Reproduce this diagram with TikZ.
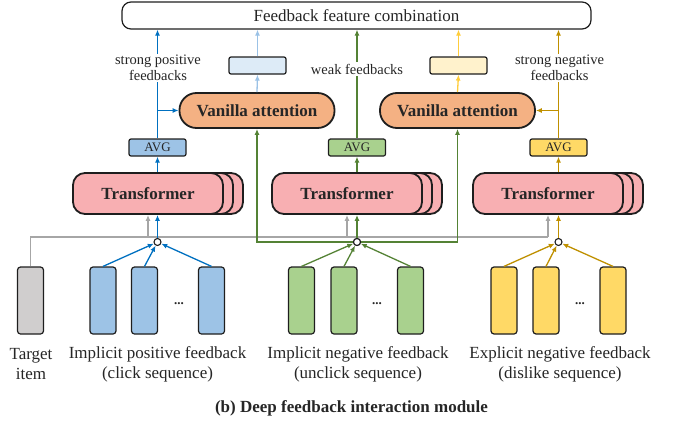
\documentclass[tikz,border=0pt]{standalone}
\usepackage{fontspec}
\setmainfont{Liberation Serif}
\usetikzlibrary{arrows.meta}
\definecolor{txtc}{RGB}{38,38,38}
\definecolor{outc}{RGB}{30,30,30}
\definecolor{bluel}{RGB}{0,112,192}
\definecolor{bluefill}{RGB}{157,195,230}
\definecolor{bluepale}{RGB}{155,194,230}
\definecolor{bluebox}{RGB}{221,235,247}
\definecolor{greenl}{RGB}{84,130,53}
\definecolor{greenfill}{RGB}{169,209,142}
\definecolor{yelfill}{RGB}{255,217,102}
\definecolor{brownl}{RGB}{191,144,0}
\definecolor{yelpale}{RGB}{255,205,60}
\definecolor{yelbox}{RGB}{255,242,204}
\definecolor{vac}{RGB}{244,177,131}
\definecolor{transc}{RGB}{248,175,178}
\definecolor{grayl}{RGB}{166,166,166}
\definecolor{grayfill}{RGB}{208,206,206}
\begin{document}
\begin{tikzpicture}[x=1pt,y=-1pt,
  txt/.style={text=txtc, font=\fontsize{17}{20}\selectfont, align=center, inner sep=0pt},
  small/.style={text=txtc, font=\fontsize{14.5}{16}\selectfont, align=center, fill=white, inner sep=1.5pt},
  item/.style={draw=outc, line width=1.2pt, rounded corners=3pt, minimum width=26pt, minimum height=67pt, inner sep=0pt},
  trans/.style={draw=outc, line width=1.8pt, rounded corners=12pt, fill=transc, minimum width=150pt, minimum height=41pt, inner sep=0pt, font=\fontsize{17}{20}\selectfont\bfseries, text=txtc},
  va/.style={draw=outc, line width=1.8pt, rounded corners=17pt, fill=vac, minimum width=155pt, minimum height=35pt, inner sep=0pt, font=\fontsize{17}{20}\selectfont\bfseries, text=txtc},
  avg/.style={draw=outc, line width=1.2pt, rounded corners=2pt, minimum width=57pt, minimum height=17pt, inner sep=0pt, font=\fontsize{13}{14}\selectfont, text=txtc},
  hub/.style={circle, draw=outc, fill=white, line width=1.1pt, minimum size=7pt, inner sep=0pt},
  conn/.style={line width=1.3pt, -{Latex[length=6pt,width=5pt]}},
  dots/.style={text=txtc, font=\fontsize{13}{14}\selectfont\bfseries, inner sep=0pt, anchor=base}
]
\useasboundingbox (0,0) rectangle (673,426);

% top box
\node[draw=outc, line width=1.2pt, rounded corners=9pt, minimum width=469pt, minimum height=27pt, inner sep=0pt, txt] (top) at (356.5,15.5) {Feedback feature combination};

% small boxes
\node[avg, fill=bluebox] (lb) at (257.5,65.5) {};
\node[avg, fill=yelbox] (ly) at (458.5,65.5) {};

% vanilla attention
\node[va] (va1) at (257,110.5) {Vanilla attention};
\node[va] (va2) at (457.5,110.5) {Vanilla attention};

% AVG
\node[avg, fill=bluefill] (avg1) at (157.5,147.5) {AVG};
\node[avg, fill=greenfill] (avg2) at (357,147.5) {AVG};
\node[avg, fill=yelfill] (avg3) at (558.5,147.5) {AVG};

% transformers (stacks)
\node[trans] (t1c) at (168,193.5) {};
\node[trans] (t1b) at (158,193.5) {};
\node[trans] (t1) at (148,193.5) {Transformer};
\node[trans] (t2c) at (367,193.5) {};
\node[trans] (t2b) at (357,193.5) {};
\node[trans] (t2) at (347,193.5) {Transformer};
\node[trans] (t3c) at (568,193.5) {};
\node[trans] (t3b) at (558,193.5) {};
\node[trans] (t3) at (548,193.5) {Transformer};

% items
\node[item, fill=grayfill] (tgt) at (30.5,300.5) {};
\node[item, fill=bluefill] (b1) at (103,300.5) {};
\node[item, fill=bluefill] (b2) at (144.5,300.5) {};
\node[item, fill=bluefill] (b3) at (211.5,300.5) {};
\node[item, fill=greenfill] (g1) at (301.5,300.5) {};
\node[item, fill=greenfill] (g2) at (344,300.5) {};
\node[item, fill=greenfill] (g3) at (410.5,300.5) {};
\node[item, fill=yelfill] (y1) at (504,300.5) {};
\node[item, fill=yelfill] (y2) at (546,300.5) {};
\node[item, fill=yelfill] (y3) at (613,300.5) {};
\node[dots] (d1) at (179,304) {...};
\node[dots] (d2) at (377,304) {...};
\node[dots] (d3) at (580,304) {...};

% gray target line
\coordinate (gy) at (0,237);
\draw[grayl, line width=1.3pt] (tgt.north) |- (t3.south |- gy);
\draw[conn, grayl] (t1.south |- gy) -- (t1.south);
\draw[conn, grayl] (t2.south |- gy) -- (t2.south);
\draw[conn, grayl] (t3.south |- gy) -- (t3.south);

% hubs
\coordinate (hy) at (0,242);
\node[hub] (c1) at (157.5,242) {};
\node[hub] (c2) at (357,242) {};
\node[hub] (c3) at (558.5,242) {};

% green bus behind hub
\draw[greenl, line width=1.3pt, {Latex[length=6pt,width=5pt]}-{Latex[length=6pt,width=5pt]}] (va1.south) -- (va1.south |- hy) -- (va2.south |- hy) -- (va2.south);
\node[hub] at (c2) {};

% items to hubs
\foreach \n in {b1,b2,b3} \draw[conn, bluel] (\n.north) -- (c1);
\foreach \n in {g1,g2,g3} \draw[conn, greenl] (\n.north) -- (c2);
\foreach \n in {y1,y2,y3} \draw[conn, brownl] (\n.north) -- (c3);

% hubs to transformers
\draw[conn, bluel] (c1.north) -- (c1.north |- t1.south);
\draw[conn, greenl] (c2.north) -- (c2.north |- t2.south);
\draw[conn, brownl] (c3.north) -- (c3.north |- t3.south);

% transformers to AVG
\draw[conn, bluel] (avg1.south |- t1.north) -- (avg1.south);
\draw[conn, greenl] (avg2.south |- t2.north) -- (avg2.south);
\draw[conn, brownl] (avg3.south |- t3.north) -- (avg3.south);

% AVG to top
\draw[conn, bluel] (avg1.north) -- (avg1.north |- top.south);
\draw[conn, greenl] (avg2.north) -- (avg2.north |- top.south);
\draw[conn, brownl] (avg3.north) -- (avg3.north |- top.south);
\draw[conn, bluel] (avg1.north |- va1.west) -- (va1.west);
\draw[conn, brownl] (avg3.north |- va2.east) -- (va2.east);

% attention outputs
\draw[conn, bluepale] (va1.north) -- (lb.south);
\draw[conn, bluepale] (lb.north) -- (lb.north |- top.south);
\draw[conn, yelpale] (va2.north) -- (ly.south);
\draw[conn, yelpale] (ly.north) -- (ly.north |- top.south);

% arrow labels
\node[small] (l1) at (158,68) {strong positive\\feedbacks};
\node[small] (l2) at (357,69) {weak feedbacks};
\node[small] (l3) at (559.5,68) {strong negative\\feedbacks};

% bottom labels
\node[txt] (n0) at (31,364) {Target\\item};
\node[txt] (n1) at (157.5,364) {Implicit positive feedback\\(click sequence)};
\node[txt] (n2) at (358,364) {Implicit negative feedback\\(unclick sequence)};
\node[txt] (n3) at (560,364) {Explicit negative feedback\\(dislike sequence)};
\node[txt, font=\fontsize{17}{20}\selectfont\bfseries] (cap) at (351.5,408) {(b) Deep feedback interaction module};
\end{tikzpicture}
\end{document}
